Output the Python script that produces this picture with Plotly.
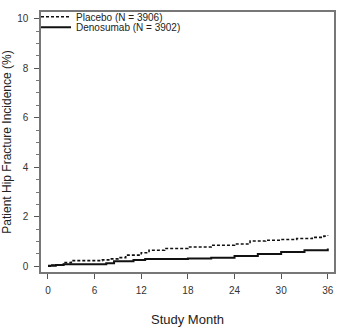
import plotly.graph_objects as go

# Data (step functions)
placebo_month = [0, 0.5, 2, 3, 7, 8, 9, 10, 12, 13, 15, 18, 21, 24, 26, 28, 30, 32, 34, 35.5, 36]
placebo_pct = [0.0, 0.05, 0.15, 0.23, 0.26, 0.3, 0.35, 0.45, 0.55, 0.65, 0.72, 0.78, 0.85, 0.9, 1.02, 1.05, 1.08, 1.12, 1.17, 1.22, 1.24]

deno_month = [0, 1, 2, 7.5, 8.5, 11, 12.5, 18, 21, 24, 27, 30, 33, 36]
deno_pct = [0.02, 0.05, 0.08, 0.12, 0.2, 0.25, 0.3, 0.32, 0.35, 0.42, 0.5, 0.58, 0.65, 0.72]

x_ticks = [0, 6, 12, 18, 24, 30, 36]
y_ticks = [0, 2, 4, 6, 8, 10]

fig = go.Figure()
fig.add_trace(go.Scatter(x=placebo_month, y=placebo_pct, mode="lines", line_shape="hv",
                         name="Placebo (N = 3906)", legend="legend",
                         line=dict(color="#111111", width=1.6, dash="3px,2px")))
fig.add_trace(go.Scatter(x=deno_month, y=deno_pct, mode="lines", line_shape="hv",
                         name="Denosumab (N = 3902)", legend="legend2",
                         line=dict(color="#111111", width=2)))

leg_common = dict(xanchor="left", yanchor="middle", bgcolor="rgba(0,0,0,0)",
                  font=dict(size=10, color="#222222"), itemwidth=30)

fig.update_layout(
    width=338, height=327,
    margin=dict(l=41, r=2, t=2, b=54),
    paper_bgcolor="white", plot_bgcolor="white",
    font=dict(family="Liberation Sans, Arial, sans-serif", color="#222222", size=10),
    showlegend=True,
    legend=dict(x=-0.017, y=0.9815, **leg_common),
    legend2=dict(x=-0.017, y=0.941, **leg_common),
    xaxis=dict(range=[-0.9, 36.8], tickvals=x_ticks, ticks="outside", ticklen=5,
               showline=True, linecolor="#777777", linewidth=1.5, mirror=True,
               showgrid=False, zeroline=False, tickcolor="#555555",
               ticklabelstandoff=3,
               tickfont=dict(size=10, color="#333333"),
               title=dict(text="Study Month", font=dict(size=13, color="#222222"), standoff=20)),
    yaxis=dict(range=[-0.23, 10.27], tickvals=y_ticks, ticks="outside", ticklen=5,
               showline=True, linecolor="#777777", linewidth=1.5, mirror=True,
               showgrid=False, zeroline=False, tickcolor="#555555",
               ticklabelstandoff=4,
               tickfont=dict(size=10, color="#333333"),
               minor=dict(dtick=0.5, ticks="outside", ticklen=3, tickcolor="#777777"),
               title=dict(text="Patient Hip Fracture Incidence (%)", font=dict(size=12, color="#222222"), standoff=6)),
)

fig.write_html("out.html")
